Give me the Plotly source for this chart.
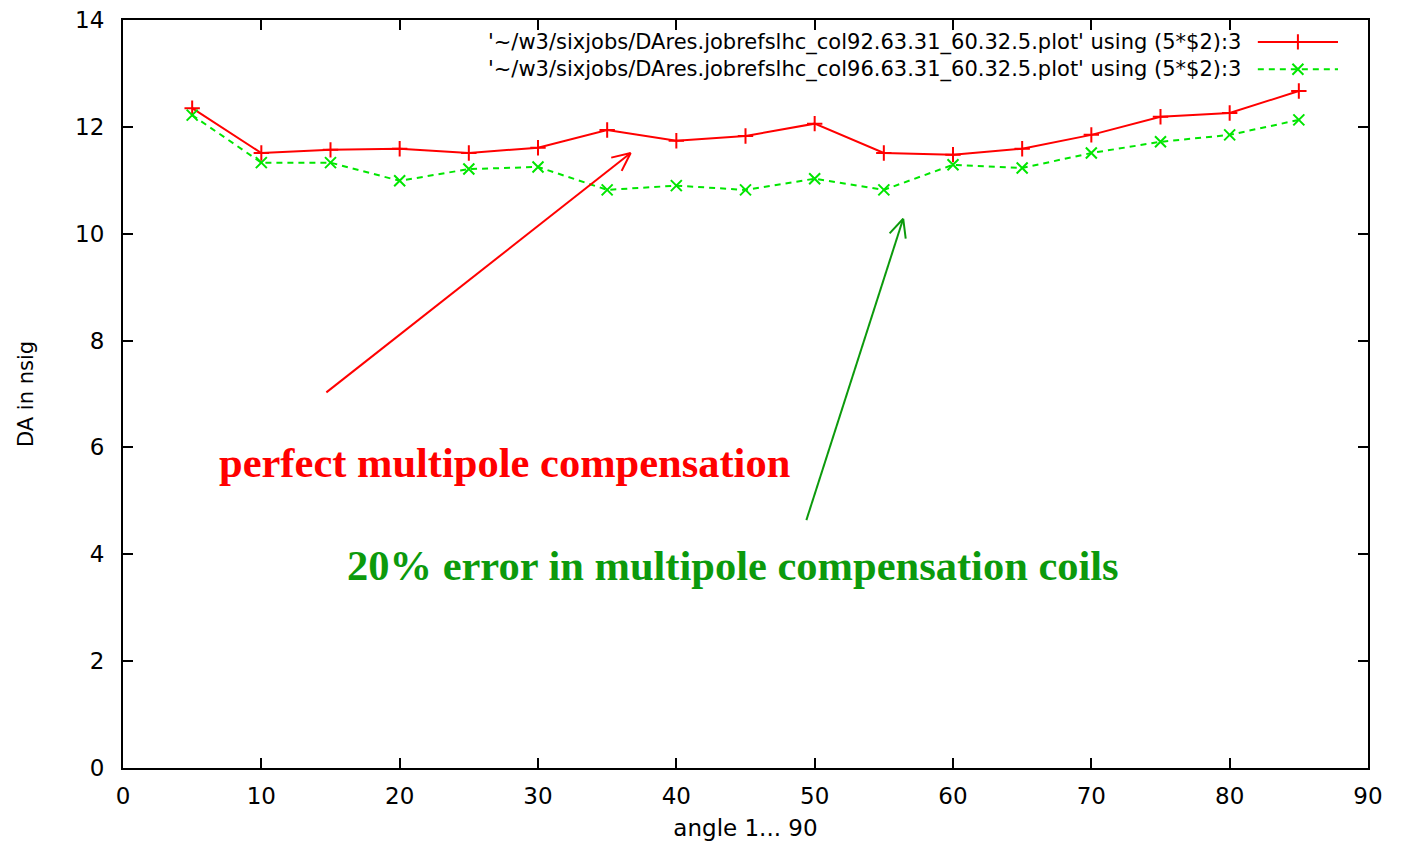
import math
import plotly.graph_objects as go

angles = [5, 10, 15, 20, 25, 30, 35, 40, 45, 50, 55, 60, 65, 70, 75, 80, 85]
da_perfect = [12.35, 11.51, 11.57, 11.59, 11.51, 11.61, 11.94, 11.74, 11.83, 12.06,
              11.51, 11.48, 11.59, 11.85, 12.19, 12.26, 12.67]
da_error20 = [12.22, 11.33, 11.33, 10.99, 11.21, 11.25, 10.82, 10.90, 10.82, 11.03,
              10.82, 11.29, 11.23, 11.51, 11.72, 11.85, 12.13]
legend_labels = [
    "'~/w3/sixjobs/DAres.jobrefslhc_col92.63.31_60.32.5.plot' using (5*$2):3",
    "'~/w3/sixjobs/DAres.jobrefslhc_col96.63.31_60.32.5.plot' using (5*$2):3",
]
x_ticks = [0, 10, 20, 30, 40, 50, 60, 70, 80, 90]
y_ticks = [0, 2, 4, 6, 8, 10, 12, 14]

RED = "#ff0000"
GREEN = "#00e600"
TEXT_GREEN = "#0c9a0c"
SANS = "DejaVu Sans, Arial"
SERIF = "Liberation Serif, Times New Roman"

W, H = 1402, 842
ML, MR, MT, MB = 123, 34, 20, 74
PW, PH = W - ML - MR, H - MT - MB
XR, YR = [0, 90], [0, 14]
sx = PW / (XR[1] - XR[0])
sy = PH / (YR[1] - YR[0])

fig = go.Figure()
fig.add_trace(go.Scatter(
    x=angles, y=da_perfect, mode="lines+markers", name=legend_labels[0],
    line=dict(color=RED, width=2),
    marker=dict(symbol="cross-thin", size=11, line=dict(color=RED, width=2)),
))
fig.add_trace(go.Scatter(
    x=angles, y=da_error20, mode="lines+markers", name=legend_labels[1],
    line=dict(color=GREEN, width=2, dash="6px,5px"),
    marker=dict(symbol="x-thin", size=11, line=dict(color=GREEN, width=2)),
))

# gnuplot-style key: text right-aligned, sample to the right (overlay axes in paper units)
KEY_FONT = 21
key_text_x = 0.8995
key_center = 0.9525
key_rows = [0.9707, 0.9342]
key_line = [0.9115, 0.9759]
styles = [
    (RED, "solid", "cross-thin", 11),
    (GREEN, "6px,5px", "x-thin", 11),
]
fig.add_annotation(xref="paper", yref="paper", x=key_text_x, y=key_center,
                   text="<br>".join(legend_labels), align="right",
                   showarrow=False, xanchor="right", yanchor="middle",
                   font=dict(family=SANS, size=KEY_FONT, color="black"))
for ky, (col, dash, sym, sz) in zip(key_rows, styles):
    fig.add_trace(go.Scatter(x=key_line, y=[ky, ky], mode="lines", xaxis="x2", yaxis="y2",
                             line=dict(color=col, width=2, dash=dash), showlegend=False,
                             hoverinfo="skip"))
    fig.add_trace(go.Scatter(x=[sum(key_line) / 2], y=[ky], mode="markers", xaxis="x2", yaxis="y2",
                             marker=dict(symbol=sym, size=sz, line=dict(color=col, width=2)),
                             showlegend=False, hoverinfo="skip"))

# Arrows with open V heads
def arrow(x0, y0, x1, y1, color):
    fig.add_shape(type="line", x0=x0, y0=y0, x1=x1, y1=y1, xref="x", yref="y",
                  line=dict(color=color, width=2))
    dxp = (x1 - x0) * sx
    dyp = (y1 - y0) * sy
    ang = math.atan2(dyp, dxp)
    L = 20
    for da in (math.radians(25), -math.radians(25)):
        a = ang + math.pi + da
        hx = x1 + L * math.cos(a) / sx
        hy = y1 + L * math.sin(a) / sy
        fig.add_shape(type="line", x0=x1, y0=y1, x1=hx, y1=hy, xref="x", yref="y",
                      line=dict(color=color, width=2))

arrow(14.7, 7.03, 36.7, 11.51, RED)
arrow(49.4, 4.64, 56.4, 10.28, TEXT_GREEN)

fig.add_annotation(x=27.6, y=5.72, xref="x", yref="y", text="<b>perfect multipole compensation</b>",
                   showarrow=False, font=dict(family=SERIF, size=42.5, color=RED))
fig.add_annotation(x=44.1, y=3.79, xref="x", yref="y",
                   text="<b>20% error in multipole compensation coils</b>",
                   showarrow=False, font=dict(family=SERIF, size=42.5, color=TEXT_GREEN))

axis_common = dict(showgrid=False, zeroline=False, showline=True, linecolor="black", linewidth=2,
                   ticks="inside", ticklen=10, tickwidth=2, tickcolor="black", mirror="ticks",
                   automargin=False,
                   tickfont=dict(family=SANS, size=23, color="black"))
fig.update_layout(
    width=W, height=H,
    margin=dict(l=ML, r=MR, t=MT, b=MB),
    paper_bgcolor="white", plot_bgcolor="white",
    showlegend=False,
    xaxis=dict(range=XR, tickvals=x_ticks, ticklabelstandoff=6,
               title=dict(text="angle 1... 90", standoff=12,
                          font=dict(family=SANS, size=23, color="black")),
               **axis_common),
    yaxis=dict(range=YR, tickvals=y_ticks, ticklabelstandoff=12,
               title=dict(text="DA in nsig", standoff=36,
                          font=dict(family=SANS, size=21, color="black")),
               **axis_common),
    xaxis2=dict(range=[0, 1], overlaying="x", visible=False, fixedrange=True),
    yaxis2=dict(range=[0, 1], overlaying="y", visible=False, fixedrange=True),
)

fig.write_html("out.html")
